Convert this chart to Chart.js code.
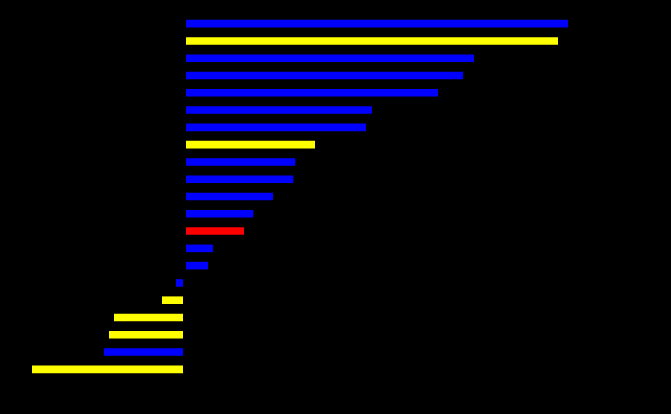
<html>
<head>
<style>
  body { margin: 0; background: #000; }
  #wrap { width: 671px; height: 414px; }
</style>
</head>
<body>
<div id="wrap">
    <canvas id="myChart"></canvas>
</div>
<script src="https://cdn.jsdelivr.net/npm/chart.js@4.4.1/dist/chart.umd.min.js"></script>
<script>
    const labels = ["A", "B", "C", "D", "E", "F", "G", "H", "I", "J", "K",
                    "L", "M", "N", "O", "P", "Q", "R", "S", "T", "U"];
    const values = [38.35, 37.35, 28.95, 27.85, 25.35, 18.75, 18.15, 13.05, 11.08, 10.88, 8.85,
                    6.88, 5.95, 2.85, 2.35, -0.85, -2.25, -7.05, -7.55, -8.05, -15.25];
    const groups = ["b", "y", "b", "b", "b", "b", "b", "y", "b", "b", "b",
                    "b", "r", "b", "b", "b", "y", "y", "y", "b", "y"];
    const groupColors = { b: "#0000ff", y: "#ffff00", r: "#ff0000" };

    let myChart = new Chart("myChart", {
        type: "bar",
        data: {
            labels: labels,
            datasets: [{
                data: values,
                backgroundColor: groups.map(g => groupColors[g]),
                borderWidth: 0,
                barPercentage: 0.44,
                categoryPercentage: 1
            }]
        },
        options: {
            indexAxis: "y",
            responsive: true,
            maintainAspectRatio: false,
            animation: false,
            layout: { padding: { top: 15, bottom: 36, left: 0, right: 0 } },
            plugins: { legend: { display: false }, tooltip: { enabled: false } },
            scales: {
                x: {
                    min: -18.45,
                    max: 48.65,
                    z: 1,
                    border: { display: false },
                    ticks: { display: false, stepSize: 10 },
                    grid: {
                        drawTicks: false,
                        lineWidth: 3,
                        color: ctx => ctx.tick && ctx.tick.value === 0 ? "#000000" : "rgba(0,0,0,0)"
                    }
                },
                y: { display: false }
            }
        }
    });
</script>
</body>
</html>
